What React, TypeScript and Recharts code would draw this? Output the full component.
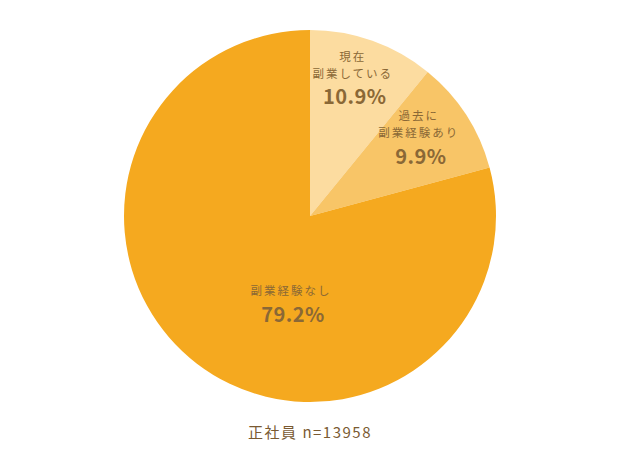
import React from "react";
import { PieChart, Pie, Cell } from "recharts";

const categories = ["現在\n副業している", "過去に\n副業経験あり", "副業経験なし"];
const values = [10.9, 9.9, 79.2];
const percentLabels = ["10.9%", "9.9%", "79.2%"];
const colors = ["#FCDCA0", "#F8C567", "#F5A91F"];
const footnote = "正社員 n=13958";

const data = categories.map((name, i) => ({ name, value: values[i] }));

const RAD = Math.PI / 180;
const LABEL_PLACE = [
  { r: 0.69, a: 69.6 },
  { r: 0.68, a: 28.8 },
  { r: 0.53, a: -99.9 },
];
const TEXT_COLOR = "#8A6836";
const FONT = "'Noto Sans CJK JP', 'Noto Sans', sans-serif";

const renderLabel = (props: any) => {
  const { cx, cy, outerRadius, index, name } = props;
  const p = LABEL_PLACE[index];
  const x = cx + outerRadius * p.r * Math.cos(p.a * RAD);
  const y = cy - outerRadius * p.r * Math.sin(p.a * RAD);
  const lines = String(name).split("\n");
  const n = lines.length;
  return (
    <g key={`lbl-${index}`}>
      {lines.map((ln, i) => (
        <text
          key={i}
          x={x - 2}
          y={y - 23 - (n - 1 - i) * 17}
          textAnchor="middle"
          dominantBaseline="central"
          fill={TEXT_COLOR}
          fontFamily={FONT}
          fontSize={11.5}
          letterSpacing={2}
        >
          {ln}
        </text>
      ))}
      <text
        x={x}
        y={y}
        textAnchor="middle"
        dominantBaseline="central"
        fill={TEXT_COLOR}
        fontFamily={FONT}
        fontSize={20}
        fontWeight={700}
        letterSpacing={0.5}
      >
        {percentLabels[index]}
      </text>
    </g>
  );
};

export default function App() {
  return (
    <div style={{ position: "absolute", left: 0, top: 0, width: 640, height: 455, background: "#fff" }}>
      <PieChart width={640} height={455} margin={{ top: 0, right: 0, bottom: 0, left: 0 }}>
        <Pie
          data={data}
          dataKey="value"
          nameKey="name"
          cx={310}
          cy={216}
          innerRadius={0}
          outerRadius={186}
          startAngle={90}
          endAngle={-270}
          stroke="none"
          label={renderLabel}
          labelLine={false}
          isAnimationActive={false}
        >
          {data.map((d, i) => (
            <Cell key={d.name} fill={colors[i]} />
          ))}
        </Pie>
      </PieChart>
      <div
        style={{
          position: "absolute",
          left: 0,
          width: 620,
          top: 422,
          textAlign: "center",
          fontFamily: FONT,
          fontSize: 15,
          letterSpacing: 1.5,
          color: "#7A5A32",
          lineHeight: "20px",
        }}
      >
        {footnote}
      </div>
    </div>
  );
}
